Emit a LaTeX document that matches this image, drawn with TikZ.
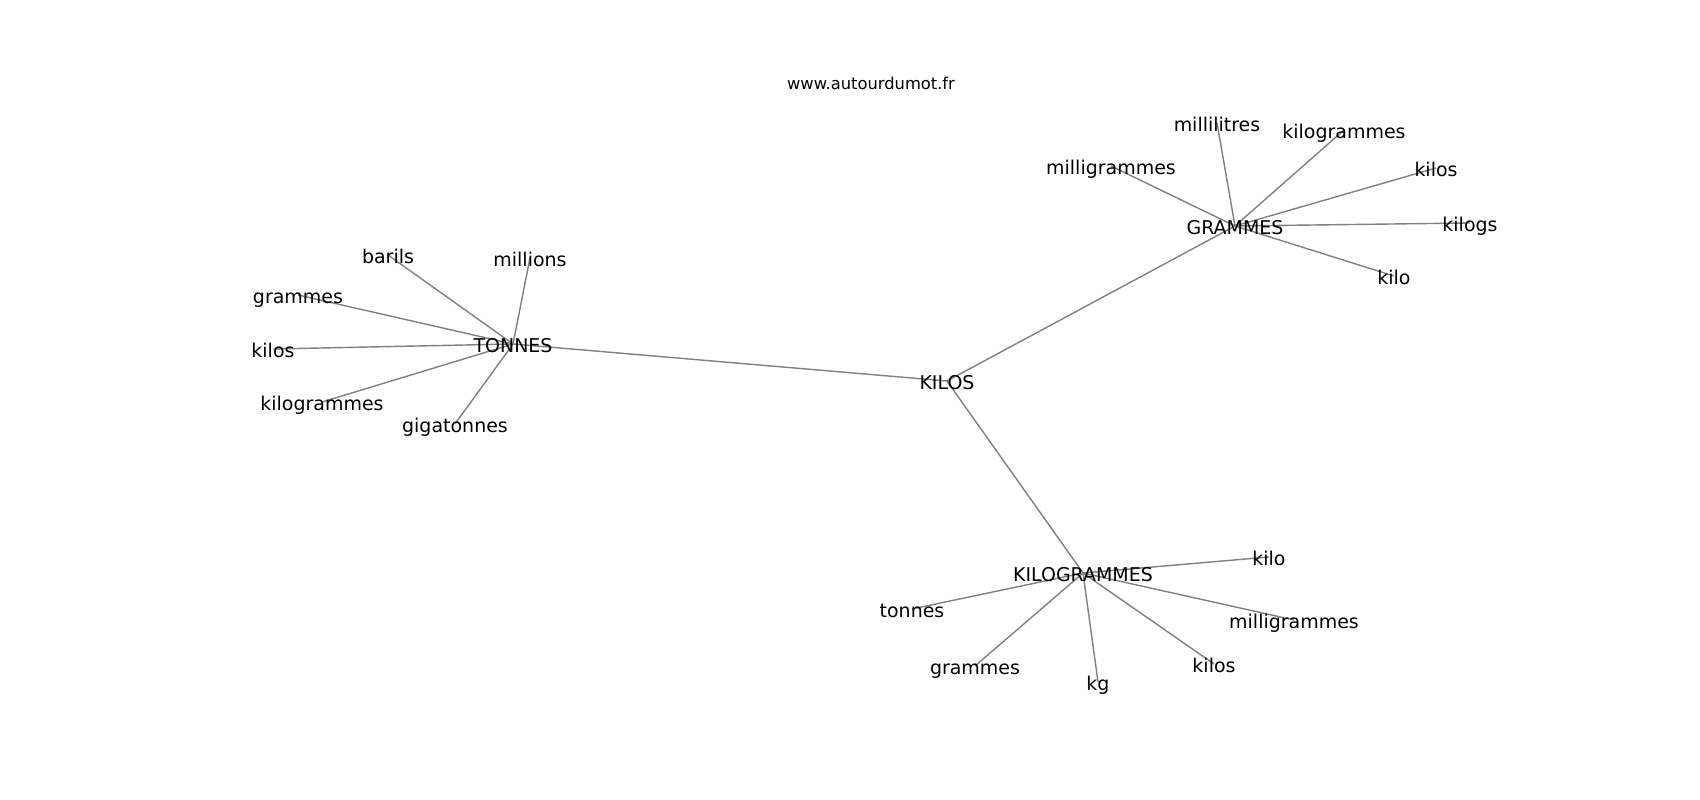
\documentclass[tikz,border=0pt]{standalone}
\usepackage{fontspec}
\setmainfont{DejaVu Sans}
\usetikzlibrary{backgrounds}

\tikzset{
  word/.style={inner sep=0pt, text height=5.04pt, text depth=0.36pt, font=\fontsize{5.4}{6}\selectfont},
  site/.style={inner sep=0pt, font=\fontsize{4.64}{5}\selectfont},
  link/.style={draw=black!50, line width=0.4pt},
}

\begin{document}
\begin{tikzpicture}[x=1cm,y=-1cm]
  \useasboundingbox (0,0) rectangle (17,8);
  \node[site] (site) at (8.71,0.83) {www.autourdumot.fr};
  % hubs
  \foreach \n/\x/\y/\t in {kilos/9.47/3.81/KILOS, tonnes/5.13/3.44/TONNES, grammes/12.35/2.26/GRAMMES, kilogrammes/10.83/5.73/KILOGRAMMES}
  {
    \node[word] (\n) at (\x,\y) {\t};
  }
  % leaves
  \foreach \n/\x/\y/\t in {t1/3.88/2.55/barils, t2/5.30/2.58/millions, t3/2.98/2.95/grammes, t4/2.73/3.49/kilos, t5/3.22/4.02/kilogrammes, t6/4.55/4.24/gigatonnes,
    g1/11.11/1.66/milligrammes, g2/12.17/1.23/millilitres, g3/13.44/1.30/kilogrammes, g4/14.36/1.68/kilos, g5/14.70/2.23/kilogs, g6/13.94/2.76/kilo,
    k1/12.69/5.57/kilo, k2/9.12/6.09/tonnes, k3/12.94/6.20/milligrammes, k4/12.14/6.64/kilos, k5/10.98/6.82/kg, k6/9.75/6.66/grammes}
  {
    \node[word] (\n) at (\x,\y) {\t};
  }
  \begin{pgfonlayer}{background}
    \foreach \a/\b in {kilos/tonnes, kilos/grammes, kilos/kilogrammes,
      tonnes/t1, tonnes/t2, tonnes/t3, tonnes/t4, tonnes/t5, tonnes/t6,
      grammes/g1, grammes/g2, grammes/g3, grammes/g4, grammes/g5, grammes/g6,
      kilogrammes/k1, kilogrammes/k2, kilogrammes/k3, kilogrammes/k4, kilogrammes/k5, kilogrammes/k6}
    {
      \draw[link] (\a.center) -- (\b.center);
    }
  \end{pgfonlayer}
\end{tikzpicture}
\end{document}
